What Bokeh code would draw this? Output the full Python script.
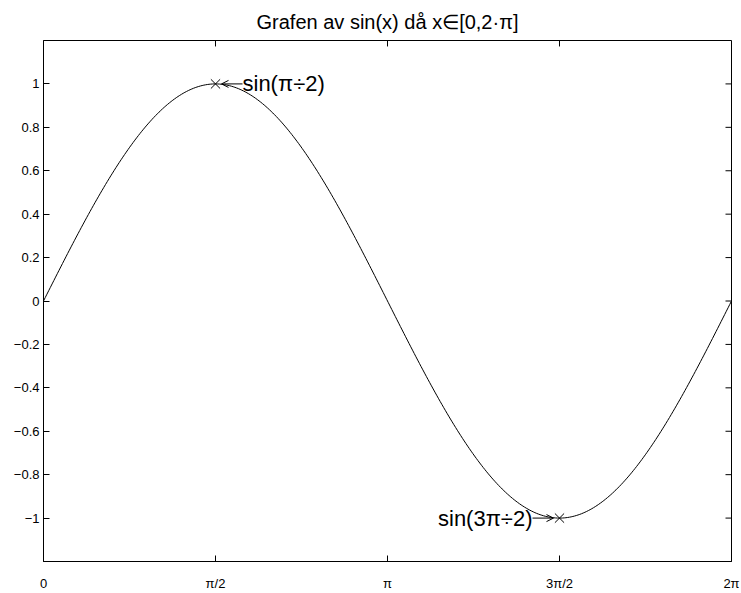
import numpy as np
from bokeh.plotting import figure
from bokeh.models import (FixedTicker, Range1d, ColumnDataSource, Arrow, OpenHead)
from bokeh.core.properties import value
from bokeh.embed import file_html
from bokeh.resources import INLINE

FONT = "Liberation Sans"

TITLE = "Grafen av sin(x) då x∈[0,2·π]"

# tick positions and labels
x_ticks = [0, np.pi / 2, np.pi, 3 * np.pi / 2, 2 * np.pi]
x_tick_labels = ["0", "π/2", "π", "3π/2", "2π"]
y_ticks = [-1.0, -0.8, -0.6, -0.4, -0.2, 0.0, 0.2, 0.4, 0.6, 0.8, 1.0]
y_tick_labels = ["−1", "−0.8", "−0.6", "−0.4", "−0.2", "0", "0.2", "0.4", "0.6", "0.8", "1"]

# the plotted function: sin(x) on [0, 2π]
x = np.linspace(0, 2 * np.pi, 400)
y = np.sin(x)

# marked points and their annotations
mark_x = [np.pi / 2, 3 * np.pi / 2]
mark_y = [1.0, -1.0]
mark_text = ["sin(π÷2)", "sin(3π÷2)"]
mark_align = ["left", "right"]
mark_side = [1, -1]          # text to the right / left of the point

W, H = 741, 593
BORDER_L, BORDER_R, BORDER_T, BORDER_B = 43, 10, 39, 30
FRAME_W = W - BORDER_L - BORDER_R
FRAME_H = H - BORDER_T - BORDER_B
x_lo, x_hi = 0.0, 2 * np.pi
y_lo, y_hi = -1.2, 1.2
px = FRAME_W / (x_hi - x_lo)  # pixels per x unit
py = FRAME_H / (y_hi - y_lo)  # pixels per y unit
TICK = 6                      # tick length in pixels

p = figure(width=W, height=H, output_backend="svg", toolbar_location=None,
           x_range=Range1d(x_lo, x_hi), y_range=Range1d(y_lo, y_hi),
           min_border_left=BORDER_L, min_border_right=BORDER_R,
           min_border_top=BORDER_T, min_border_bottom=BORDER_B)

p.title.text = TITLE
p.title.align = "center"
p.title.text_font = FONT
p.title.text_font_size = "20px"
p.title.text_font_style = "normal"
p.title.text_color = "black"
p.title.text_line_height = 0.7
p.title.standoff = 16

p.grid.visible = False
p.outline_line_color = "black"
p.outline_line_width = 1
p.background_fill_color = "white"
p.border_fill_color = "white"

for ax in p.xaxis:
    ax.ticker = FixedTicker(ticks=x_ticks)
    ax.major_label_overrides = {t: l for t, l in zip(x_ticks, x_tick_labels)}
    ax.major_label_standoff = 14
for ax in p.yaxis:
    ax.ticker = FixedTicker(ticks=y_ticks)
    ax.major_label_overrides = {t: l for t, l in zip(y_ticks, y_tick_labels)}
    ax.major_label_standoff = 4

for ax in list(p.xaxis) + list(p.yaxis):
    ax.major_tick_in = TICK
    ax.major_tick_out = 0
    ax.minor_tick_in = 0
    ax.minor_tick_out = 0
    ax.axis_line_color = "black"
    ax.major_label_text_font = FONT
    ax.major_label_text_font_size = "13px"
    ax.major_label_text_color = "black"

# inward ticks on the top and right sides of the box
xt = np.array(x_ticks)
yt = np.array(y_ticks)
p.segment(x0=xt, y0=np.full_like(xt, y_hi), x1=xt, y1=np.full_like(xt, y_hi - TICK / py),
          line_color="black", line_width=1)
p.segment(x0=np.full_like(yt, x_hi), y0=yt, x1=np.full_like(yt, x_hi - TICK / px), y1=yt,
          line_color="black", line_width=1)

p.line(x, y, line_color="black", line_width=1)

# arrow from the annotation text to the point
side = np.array(mark_side, dtype=float)
mx = np.array(mark_x)
arrow_src = ColumnDataSource(dict(
    x0=mx + side * 27 / px, x1=mx + side * 6 / px, y=mark_y))
p.add_layout(Arrow(source=arrow_src, x_start="x0", x_end="x1", y_start="y", y_end="y",
                   line_color="black", line_width=1,
                   end=OpenHead(size=7, line_color="black", line_width=1)))

src = ColumnDataSource(dict(x=mark_x, y=mark_y, text=mark_text,
                            align=mark_align, off=[s * 27 for s in mark_side]))
p.scatter("x", "y", source=src, marker="x", size=13, line_color="black", line_width=1)
p.text("x", "y", text="text", source=src, text_align="align", x_offset="off",
       text_baseline="middle", text_font=value(FONT), text_font_size="22px",
       text_color="black")

open("out.html", "w").write(file_html(p, INLINE))
